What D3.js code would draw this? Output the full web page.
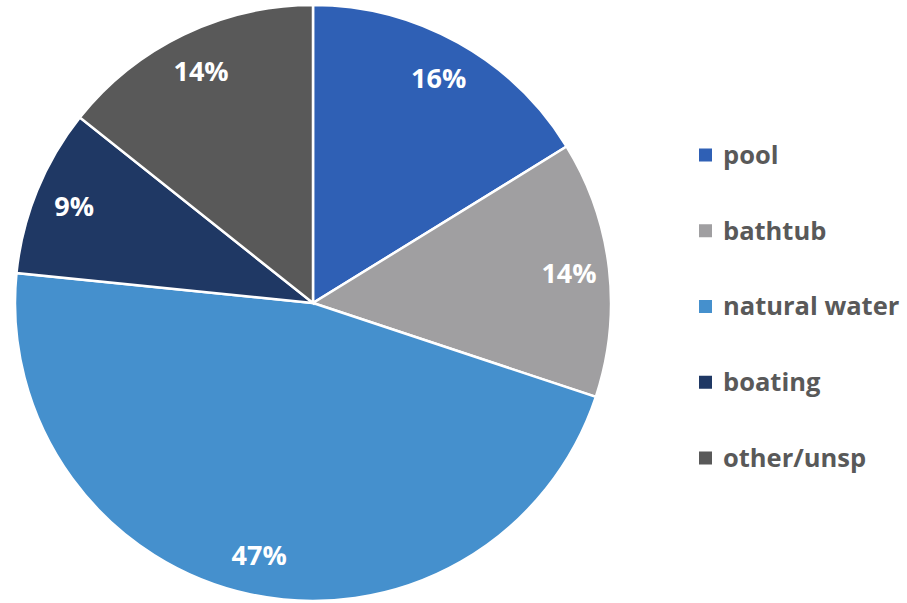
<!DOCTYPE html>
<html>
<head>
<meta charset="utf-8">
<script src="https://cdn.jsdelivr.net/npm/d3@7"></script>
<style>
  body { margin: 0; background: #fff; }
  svg text { font-family: "Open Sans", sans-serif; font-weight: bold; }
</style>
</head>
<body>
<div id="chart"></div>
<script>
// data (shares, labels shown rounded)
var categories = ["pool", "bathtub", "natural water", "boating", "other/unsp"];
var shares = [16.2, 13.9, 46.5, 9.1, 14.3];
var colors = ["#2f60b5", "#a09fa1", "#4590cd", "#1f3864", "#595959"];

var width = 907, height = 603;
var cx = 313, cy = 303, radius = 298;

var data = categories.map(function(c, i) {
    return { name: c, value: shares[i], color: colors[i] };
});

var svg = d3.select("#chart")
    .append("svg")
    .attr("width", width)
    .attr("height", height);

var pie = d3.pie().sort(null).value(function(d) { return d.value; });
var arc = d3.arc().innerRadius(0).outerRadius(radius);
var labelArc = d3.arc().innerRadius(radius * 0.865).outerRadius(radius * 0.865);

var g = svg.append("g").attr("transform", "translate(" + cx + "," + cy + ")");

var slices = g.selectAll("g.slice")
    .data(pie(data))
    .enter()
    .append("g")
    .attr("class", "slice");

slices.append("path")
    .attr("d", arc)
    .attr("fill", function(d) { return d.data.color; })
    .attr("stroke", "#fff")
    .attr("stroke-width", 2.5);

slices.append("text")
    .attr("transform", function(d) { return "translate(" + labelArc.centroid(d) + ")"; })
    .attr("text-anchor", "middle")
    .attr("dy", "0.36em")
    .attr("fill", "#fff")
    .style("font-size", "27px")
    .text(function(d) { return Math.round(d.data.value) + "%"; });

// legend
var legendY = d3.scalePoint().domain(categories).range([155, 458]);

var legend = svg.append("g")
    .selectAll("g")
    .data(data)
    .enter()
    .append("g")
    .attr("transform", function(d) { return "translate(699," + legendY(d.name) + ")"; });

legend.append("rect")
    .attr("x", 0)
    .attr("y", -6.5)
    .attr("width", 13)
    .attr("height", 13)
    .attr("fill", function(d) { return d.color; });

legend.append("text")
    .attr("x", 24)
    .attr("dy", "0.35em")
    .attr("fill", "#595959")
    .style("font-size", "25.5px")
    .text(function(d) { return d.name; });
</script>
</body>
</html>
